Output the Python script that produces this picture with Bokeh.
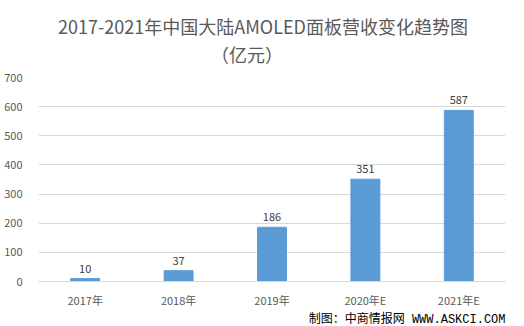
from bokeh.plotting import figure
from bokeh.models import ColumnDataSource, FactorRange, Title
from bokeh.embed import file_html
from bokeh.resources import INLINE
from bokeh.core.properties import value

categories = ["2017年", "2018年", "2019年", "2020年E", "2021年E"]
revenue = [10, 37, 186, 351, 587]
y_ticks = [0, 100, 200, 300, 400, 500, 600, 700]

title_line1 = "2017-2021年中国大陆AMOLED面板营收变化趋势图"
title_line2 = "（亿元）"
footer = "制图：中商情报网 WWW.ASKCI.COM"

FONT = "Noto Sans CJK SC"
TXT = "#595959"

src = ColumnDataSource(dict(cat=categories, val=revenue, lab=[str(v) for v in revenue]))

p = figure(width=524, height=326, x_range=FactorRange(*categories), y_range=(0, 700),
           output_backend="svg", toolbar_location=None,
           min_border_left=38, min_border_right=19, min_border_top=77, min_border_bottom=45)
p.outline_line_color = None
p.background_fill_color = "white"
p.border_fill_color = "white"

p.vbar(x="cat", top="val", width=0.31, source=src, color="#5B9BD5")
p.text(x="cat", y="val", text="lab", source=src, text_align="center", text_baseline="bottom",
       y_offset=-6, text_font=value(FONT), text_font_size="11px", text_color="#404040")

p.xgrid.grid_line_color = None
p.ygrid.grid_line_color = "#D9D9D9"
p.ygrid.ticker = y_ticks
p.yaxis.ticker = y_ticks
p.yaxis.axis_line_color = None
p.yaxis.major_tick_line_color = None
p.yaxis.minor_tick_line_color = None
p.yaxis.major_label_text_font = FONT
p.yaxis.major_label_text_font_size = "11px"
p.yaxis.major_label_text_color = TXT
p.yaxis.major_label_standoff = 10

p.xaxis.axis_line_color = "#D9D9D9"
p.xaxis.major_tick_line_color = None
p.xaxis.minor_tick_line_color = None
p.xaxis.major_label_text_font = FONT
p.xaxis.major_label_text_font_size = "11px"
p.xaxis.major_label_text_color = TXT
p.xaxis.major_label_standoff = 4

# second line padded with ideographic spaces so it sits centred under the first;
# a trailing ideographic space on line 1 shifts the block to the canvas centre
title_text = title_line1 + "\u3000\n" + "\u3000" * 9 + title_line2
p.add_layout(Title(text=title_text, align="center", text_font=FONT, text_font_size="18px",
                   text_font_style="normal", text_color=TXT, text_line_height=1.08,
                   standoff=21), "above")
p.add_layout(Title(text=footer, align="right", text_font="Liberation Mono, Noto Sans CJK SC",
                   text_font_size="12px", text_font_style="normal", text_color="#000000",
                   standoff=0), "below")

open("out.html", "w").write(file_html(p, INLINE))
